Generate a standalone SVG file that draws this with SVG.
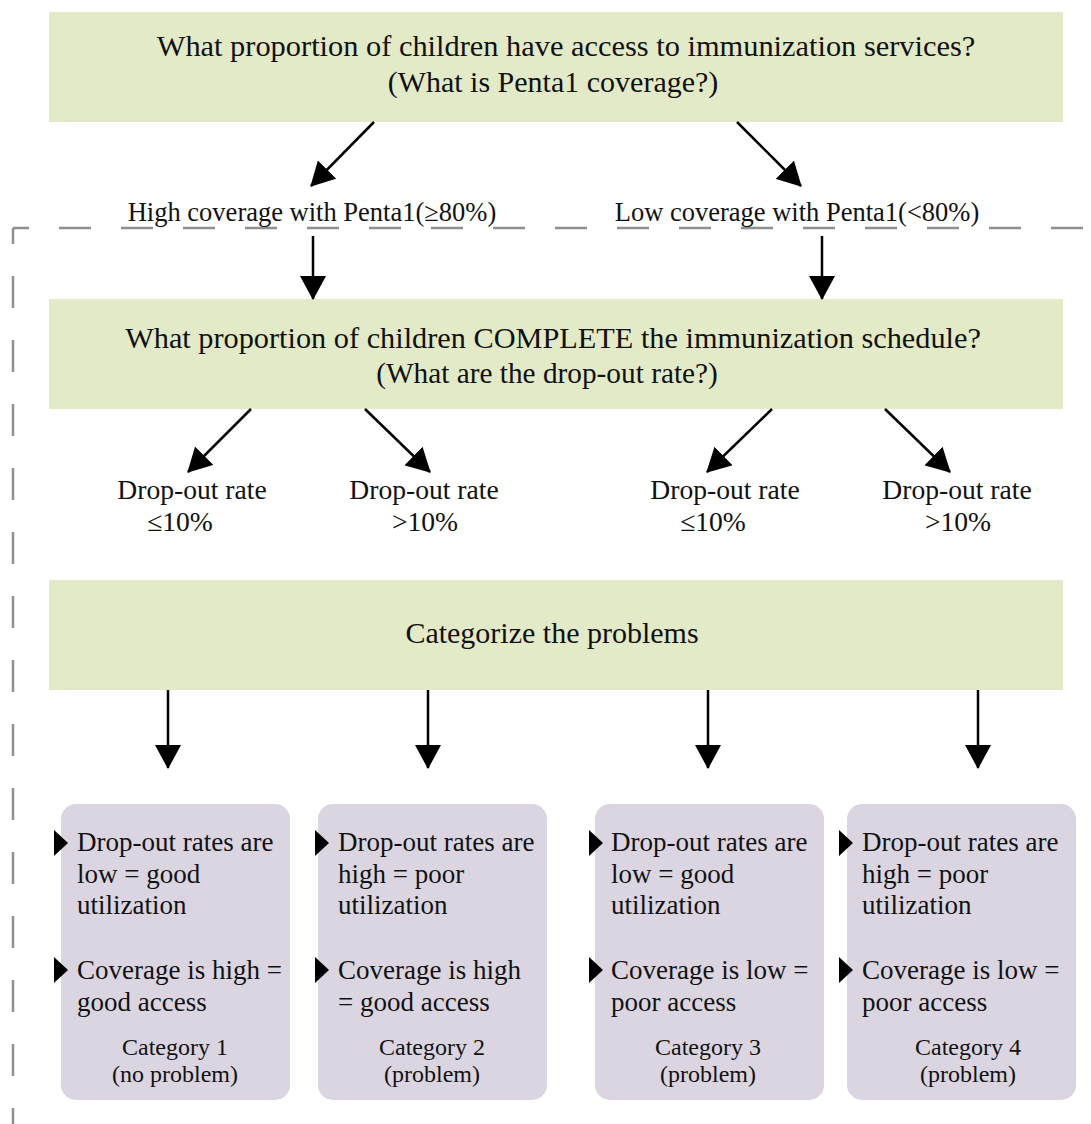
<svg xmlns="http://www.w3.org/2000/svg" width="1091" height="1124" viewBox="0 0 1091 1124">
<style>
text{font-family:'Liberation Serif','Times New Roman',serif;fill:#111;}
.t{font-size:27px;}
.h{font-size:30px;text-anchor:middle;}
.l{font-size:26.5px;text-anchor:middle;}
.r{font-size:27.6px;text-anchor:middle;}
.c{font-size:24px;text-anchor:middle;}
.g{fill:#e3eac7;}
.p{fill:#dbd5e1;}
.a{stroke:#000;stroke-width:2.5;fill:none;marker-end:url(#ah);}
.d{stroke:#8f8f8f;stroke-width:2.5;fill:none;stroke-dasharray:32 30;}
.b{fill:#000;}
</style>
<defs>
<marker id="ah" viewBox="0 0 24 26" refX="23" refY="13" markerWidth="24" markerHeight="26" markerUnits="userSpaceOnUse" orient="auto">
<path d="M0,0 L24,13 L0,26 z" fill="#000"/>
</marker>
</defs>
<g id="frame">
<path class="d" d="M13,228 H1091" stroke-dashoffset="16"/>
<path class="d" d="M13,228 V1124" style="stroke-dasharray:32 32" stroke-dashoffset="16"/>
</g>
<g id="q1">
<rect class="g" x="49" y="12" width="1014" height="110"/>
<text class="h" x="566" y="56" style="font-size:30.4px">What proportion of children have access to immunization services?</text>
<text class="h" x="553" y="92">(What is Penta1 coverage?)</text>
</g>
<g id="high">
<text class="l" x="312" y="221">High coverage with Penta1(≥80%)</text>
</g>
<g id="low">
<text class="l" x="797" y="221">Low coverage with Penta1(&lt;80%)</text>
</g>
<g id="q2">
<rect class="g" x="49" y="299" width="1014" height="110"/>
<text class="h" x="553" y="348" style="font-size:30.3px">What proportion of children COMPLETE the immunization schedule?</text>
<text class="h" x="547" y="383" style="font-size:29.3px">(What are the drop-out rate?)</text>
</g>
<g id="d1"><text class="r" x="192" y="499">Drop-out rate</text><text class="r" x="180" y="531">≤10%</text></g>
<g id="d2"><text class="r" x="424" y="499">Drop-out rate</text><text class="r" x="425" y="531">&gt;10%</text></g>
<g id="d3"><text class="r" x="725" y="499">Drop-out rate</text><text class="r" x="713" y="531">≤10%</text></g>
<g id="d4"><text class="r" x="957" y="499">Drop-out rate</text><text class="r" x="958" y="531">&gt;10%</text></g>
<g id="q3">
<rect class="g" x="49" y="580" width="1014" height="110"/>
<text class="h" x="552" y="643">Categorize the problems</text>
</g>
<g id="cat1">
<rect class="p" x="61" y="804" width="229" height="296" rx="15"/>
<path class="b" d="M54,830 L68,843 L54,856 z"/>
<path class="b" d="M54,957 L68,970 L54,983 z"/>
<text class="t" x="77" y="851">Drop-out rates are</text>
<text class="t" x="77" y="883">low = good</text>
<text class="t" x="77" y="914">utilization</text>
<text class="t" x="77" y="979">Coverage is high =</text>
<text class="t" x="77" y="1011">good access</text>
<text class="c" x="175" y="1055">Category 1</text>
<text class="c" x="175" y="1082">(no problem)</text>
</g>
<g id="cat2">
<rect class="p" x="318" y="804" width="229" height="296" rx="15"/>
<path class="b" d="M315,830 L329,843 L315,856 z"/>
<path class="b" d="M315,957 L329,970 L315,983 z"/>
<text class="t" x="338" y="851">Drop-out rates are</text>
<text class="t" x="338" y="883">high = poor</text>
<text class="t" x="338" y="914">utilization</text>
<text class="t" x="338" y="979">Coverage is high</text>
<text class="t" x="338" y="1011">= good access</text>
<text class="c" x="432" y="1055">Category 2</text>
<text class="c" x="432" y="1082">(problem)</text>
</g>
<g id="cat3">
<rect class="p" x="595" y="804" width="229" height="296" rx="15"/>
<path class="b" d="M589,830 L603,843 L589,856 z"/>
<path class="b" d="M589,957 L603,970 L589,983 z"/>
<text class="t" x="611" y="851">Drop-out rates are</text>
<text class="t" x="611" y="883">low = good</text>
<text class="t" x="611" y="914">utilization</text>
<text class="t" x="611" y="979">Coverage is low =</text>
<text class="t" x="611" y="1011">poor access</text>
<text class="c" x="708" y="1055">Category 3</text>
<text class="c" x="708" y="1082">(problem)</text>
</g>
<g id="cat4">
<rect class="p" x="847" y="804" width="229" height="296" rx="15"/>
<path class="b" d="M839,830 L853,843 L839,856 z"/>
<path class="b" d="M839,957 L853,970 L839,983 z"/>
<text class="t" x="862" y="851">Drop-out rates are</text>
<text class="t" x="862" y="883">high = poor</text>
<text class="t" x="862" y="914">utilization</text>
<text class="t" x="862" y="979">Coverage is low =</text>
<text class="t" x="862" y="1011">poor access</text>
<text class="c" x="968" y="1055">Category 4</text>
<text class="c" x="968" y="1082">(problem)</text>
</g>
<g id="connectors">
<line class="a" x1="374" y1="122" x2="311" y2="186"/>
<line class="a" x1="737" y1="122" x2="801" y2="186"/>
<line class="a" x1="313" y1="236" x2="313" y2="299"/>
<line class="a" x1="822" y1="236" x2="822" y2="299"/>
<line class="a" x1="251" y1="409" x2="188" y2="472"/>
<line class="a" x1="365" y1="409" x2="430" y2="472"/>
<line class="a" x1="772" y1="409" x2="707" y2="472"/>
<line class="a" x1="885" y1="409" x2="950" y2="472"/>
<line class="a" x1="168" y1="690" x2="168" y2="768"/>
<line class="a" x1="428" y1="690" x2="428" y2="768"/>
<line class="a" x1="708" y1="690" x2="708" y2="768"/>
<line class="a" x1="978" y1="690" x2="978" y2="768"/>
</g>
</svg>
